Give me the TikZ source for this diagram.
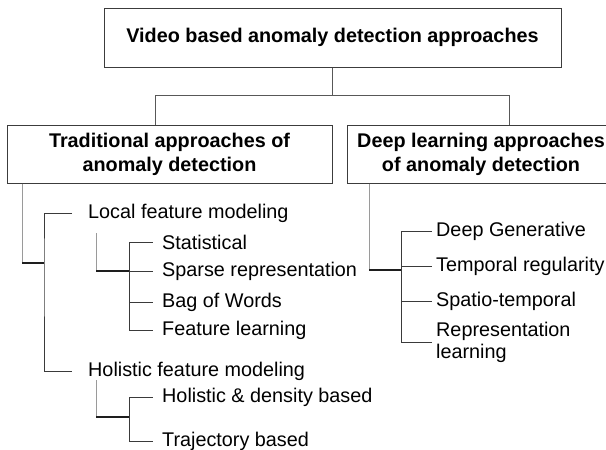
\documentclass[tikz,border=0pt]{standalone}
\usepackage{fontspec}
\setmainfont{Liberation Sans}
\definecolor{boxLine}{HTML}{3C3C3C}
\definecolor{stubGray}{HTML}{9A9A9A}
\definecolor{treeDark}{HTML}{1E1E1E}
\definecolor{treeLine}{HTML}{3A3A3A}
\tikzset{
  catbox/.style={draw=boxLine, line width=1pt, align=center, inner sep=0pt,
    font=\bfseries\fontsize{19.8}{24}\selectfont},
  item/.style={anchor=west, inner sep=0pt, align=left,
    font=\fontsize{19.8}{22}\selectfont},
  conn/.style={draw=treeLine!85, line width=1pt},
  stub/.style={draw=stubGray, line width=1pt},
  joint/.style={draw=treeDark, line width=1.3pt},
  branch/.style={draw=treeLine, line width=0.9pt}
}
\begin{document}
\begin{tikzpicture}[x=1pt, y=-1pt]
        \clip (0,0) rectangle (606,450);
        % Cajas principales
        \node[catbox, minimum width=457pt, minimum height=59pt] (root) at (332.5,37.5)
              {Video based anomaly detection approaches};
        \node[catbox, minimum width=325pt, minimum height=58pt] (trad) at (169.5,154)
              {Traditional approaches of\\anomaly detection};
        \node[catbox, minimum width=268pt, minimum height=58pt] (deep) at (481,154)
              {Deep learning approaches\\of anomaly detection};
        \coordinate (jl) at (155,95);
        \coordinate (jr) at (509,95);
        \draw[conn] (root.south) -- (root.south |- jl);
        \draw[conn] (jl |- trad.north) -- (jl) -- (jr) -- (jr |- deep.north);
        % Rama tradicional
        \node[item] (local) at (88,213) {Local feature modeling};
        \node[item] (holist) at (88,371) {Holistic feature modeling};
        \coordinate (ts) at (22,263);
        \coordinate (tj) at (44,263);
        \draw[stub] (ts |- trad.south) -- (ts);
        \draw[joint] (ts) -- (tj);
        \draw[branch] ([xshift=-16pt]local.west) -| (tj) |- ([xshift=-16pt]holist.west);
        \coordinate (ls) at (96,271);
        \coordinate (lj) at (129,271);
        \draw[stub] ([yshift=-11pt]local.south -| ls) -- (ls);
        \draw[joint] (ls) -- (lj);
        \foreach \y/\txt/\n in
          {242/Statistical/stat,
           271/Sparse representation/sparse,
           302/Bag of Words/bow,
           330/Feature learning/feat}
        {
          \node[item] (\n) at (162,\y) {\txt};
          \draw[branch] (lj) |- ([xshift=-9pt]\n.west);
        }
        \coordinate (hs) at (96,417);
        \coordinate (hj) at (129,417);
        \draw[stub] (holist.south -| hs) -- (hs);
        \draw[joint] (hs) -- (hj);
        \foreach \y/\txt/\n in
          {397/Holistic \& density based/hdb,
           441/Trajectory based/traj}
        {
          \node[item] (\n) at (162,\y) {\txt};
          \draw[branch] (hj) |- ([xshift=-9pt]\n.west);
        }
        % Rama profunda
        \coordinate (ds) at (369,270);
        \coordinate (dj) at (401,270);
        \draw[stub] (ds |- deep.south) -- (ds);
        \draw[joint] (ds) -- (dj);
        \foreach \y/\txt/\n in
          {231/Deep Generative/dgen,
           266/Temporal regularity/treg,
           301/Spatio-temporal/stemp,
           342/Representation\\learning/rlearn}
        {
          \node[item] (\n) at (436,\y) {\txt};
          \draw[branch] (dj) |- ([xshift=-4pt]\n.west);
        }
      \end{tikzpicture}
\end{document}
